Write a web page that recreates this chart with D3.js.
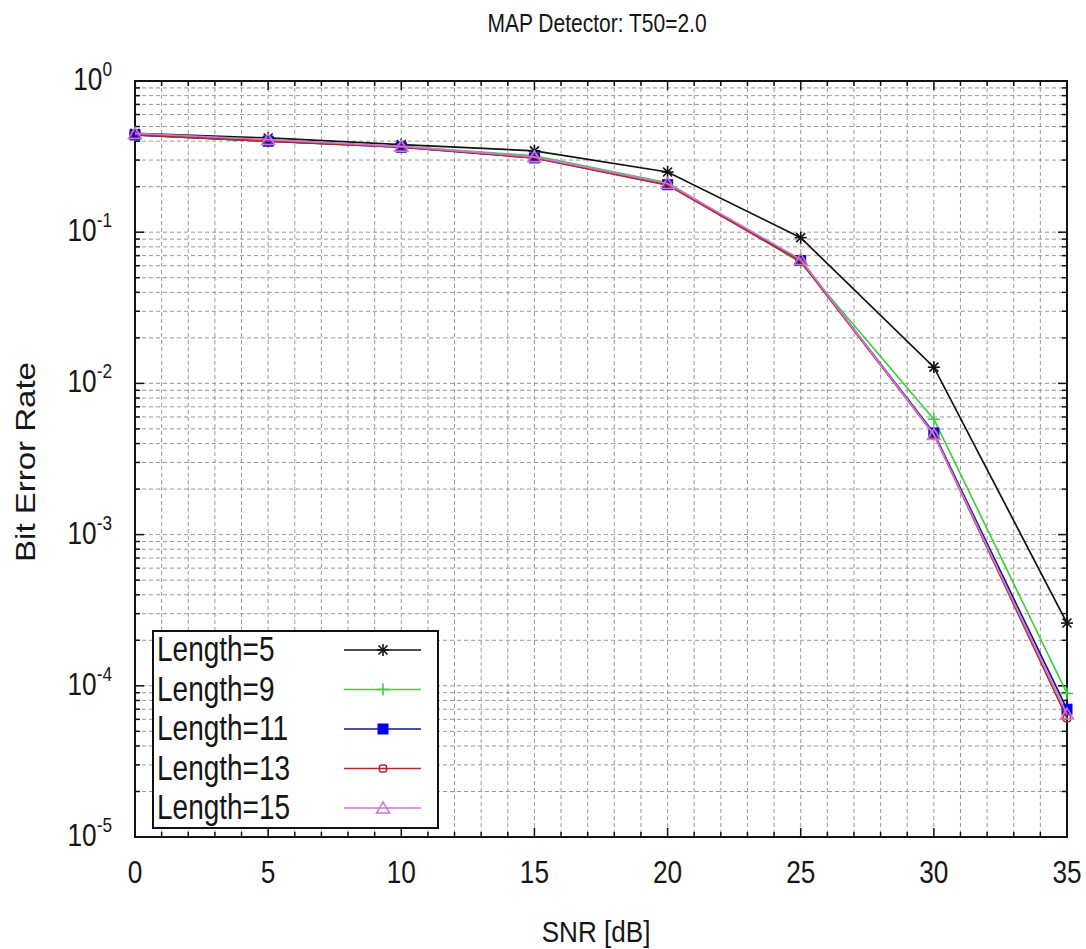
<!DOCTYPE html>
<html>
<head>
<meta charset="utf-8">
<script src="https://cdn.jsdelivr.net/npm/d3@7"></script>
<style>
  html, body { margin: 0; padding: 0; background: #fff; }
  text { font-family: "Liberation Sans", Arial, sans-serif; fill: #161616; }
</style>
</head>
<body>
<svg id="chart" width="1086" height="949"></svg>
<script>
// SNR points (dB)
const snr = [0, 5, 10, 15, 20, 25, 30, 35];

// Bit error rate per detector window length
const berLen5  = [0.45, 0.42, 0.38, 0.345, 0.25, 0.092, 0.0128, 2.6e-4];
const berLen9  = [0.44, 0.40, 0.37, 0.32, 0.212, 0.063, 0.0058, 8.9e-5];
const berLen11 = [0.44, 0.40, 0.365, 0.31, 0.206, 0.065, 0.0047, 7.0e-5];
const berLen13 = [0.44, 0.40, 0.365, 0.31, 0.205, 0.064, 0.0046, 6.1e-5];
const berLen15 = [0.45, 0.41, 0.37, 0.315, 0.21, 0.066, 0.0046, 6.5e-5];

const seriesNames = ["Length=5", "Length=9", "Length=11", "Length=13", "Length=15"];
const seriesValues = [berLen5, berLen9, berLen11, berLen13, berLen15];

const xTicks = [0, 5, 10, 15, 20, 25, 30, 35];
const yDecades = [0, -1, -2, -3, -4, -5];

const styles = [
  { line: "#111111", marker: "star",     fill: "none",    stroke: "#111111" },
  { line: "#3fcf3f", marker: "plus",     fill: "none",    stroke: "#3fcf3f" },
  { line: "#14148a", marker: "square",   fill: "#0000ee", stroke: "#0000ee" },
  { line: "#b52a2a", marker: "circle",   fill: "none",    stroke: "#b52a2a" },
  { line: "#cc77d6", marker: "triangle", fill: "none",    stroke: "#cc77d6" }
];

const svg = d3.select("#chart");
const plotL = 135, plotR = 1067, plotT = 81, plotB = 837;
const squeeze = 0.82; // condensed text width

const x = d3.scaleLinear().domain([0, 35]).range([plotL, plotR]);
const y = d3.scaleLog().domain([1e-5, 1]).range([plotB, plotT]);

// horizontal text with condensed glyphs
function label(parent, px, py, str, size, anchor, sx) {
  return parent.append("text")
    .attr("transform", `translate(${px},${py}) scale(${sx || squeeze},1)`)
    .attr("text-anchor", anchor || "start")
    .attr("font-size", size)
    .text(str);
}

// grid
const grid = svg.append("g").attr("stroke", "#999").attr("stroke-width", 1)
  .attr("stroke-dasharray", "4,3").attr("fill", "none");
for (let v = 1; v < 35; v++) {
  grid.append("line").attr("x1", x(v)).attr("x2", x(v)).attr("y1", plotT).attr("y2", plotB);
}
const minorY = [];
for (let d = -5; d < 0; d++) {
  for (let k = 1; k <= 9; k++) {
    minorY.push({ val: k * Math.pow(10, d), major: k === 1 });
  }
}
minorY.forEach(m => {
  if (m.val <= 1e-5) return;
  grid.append("line").attr("x1", plotL).attr("x2", plotR).attr("y1", y(m.val)).attr("y2", y(m.val));
});

// frame ticks (inward on all four sides)
const ticks = svg.append("g").attr("stroke", "#111").attr("stroke-width", 1.5);
for (let v = 0; v <= 35; v++) {
  const len = v % 5 === 0 ? 9 : 5;
  ticks.append("line").attr("x1", x(v)).attr("x2", x(v)).attr("y1", plotB).attr("y2", plotB - len);
  ticks.append("line").attr("x1", x(v)).attr("x2", x(v)).attr("y1", plotT).attr("y2", plotT + len);
}
minorY.concat([{ val: 1, major: true }]).forEach(m => {
  const len = m.major ? 9 : 5;
  ticks.append("line").attr("x1", plotL).attr("x2", plotL + len).attr("y1", y(m.val)).attr("y2", y(m.val));
  ticks.append("line").attr("x1", plotR).attr("x2", plotR - len).attr("y1", y(m.val)).attr("y2", y(m.val));
});

svg.append("rect").attr("x", plotL).attr("y", plotT).attr("width", plotR - plotL).attr("height", plotB - plotT)
  .attr("fill", "none").attr("stroke", "#111").attr("stroke-width", 2);

// x tick labels
const xl = svg.append("g");
xTicks.forEach(d => label(xl, x(d), 883, d, 32, "middle"));

// y tick labels (powers of ten)
const ylg = svg.append("g");
yDecades.forEach(d => {
  const t = label(ylg, 112, y(Math.pow(10, d)) + 9, "", 32, "end");
  t.append("tspan").text("10");
  t.append("tspan").attr("dy", -14).attr("font-size", 21).text(d);
});

// titles
label(svg, 597, 32, "MAP Detector: T50=2.0", 25, "middle", 0.84);
label(svg, 596, 942, "SNR [dB]", 29, "middle", 0.9);
svg.append("text").attr("transform", "translate(35,462) rotate(-90) scale(1,0.84)")
  .attr("text-anchor", "middle").attr("font-size", 33).text("Bit Error Rate");

// markers
function drawMarker(g, type, cx, cy, st) {
  const s = 6;
  if (type === "star") {
    const p = g.append("g").attr("stroke", st.stroke).attr("stroke-width", 1.6);
    p.append("line").attr("x1", cx - s).attr("x2", cx + s).attr("y1", cy).attr("y2", cy);
    p.append("line").attr("x1", cx).attr("x2", cx).attr("y1", cy - s).attr("y2", cy + s);
    p.append("line").attr("x1", cx - s * 0.75).attr("x2", cx + s * 0.75).attr("y1", cy - s * 0.75).attr("y2", cy + s * 0.75);
    p.append("line").attr("x1", cx - s * 0.75).attr("x2", cx + s * 0.75).attr("y1", cy + s * 0.75).attr("y2", cy - s * 0.75);
  } else if (type === "plus") {
    const p = g.append("g").attr("stroke", st.stroke).attr("stroke-width", 1.6);
    p.append("line").attr("x1", cx - s).attr("x2", cx + s).attr("y1", cy).attr("y2", cy);
    p.append("line").attr("x1", cx).attr("x2", cx).attr("y1", cy - s).attr("y2", cy + s);
  } else if (type === "square") {
    g.append("rect").attr("x", cx - 5).attr("y", cy - 5).attr("width", 10).attr("height", 10)
      .attr("fill", st.fill).attr("stroke", st.stroke).attr("stroke-width", 1);
  } else if (type === "circle") {
    g.append("rect").attr("x", cx - 3.5).attr("y", cy - 3.5).attr("width", 7).attr("height", 7).attr("rx", 2)
      .attr("fill", "none").attr("stroke", st.stroke).attr("stroke-width", 1.6);
  } else if (type === "triangle") {
    g.append("path").attr("d", `M${cx},${cy - 6}L${cx + 6.5},${cy + 5}L${cx - 6.5},${cy + 5}Z`)
      .attr("fill", "none").attr("stroke", st.stroke).attr("stroke-width", 1.5);
  }
}

// curves
const line = d3.line().x(d => x(d[0])).y(d => y(d[1]));
seriesValues.forEach((vals, i) => {
  const pts = snr.map((s, j) => [s, vals[j]]);
  const g = svg.append("g");
  g.append("path").attr("d", line(pts)).attr("fill", "none")
    .attr("stroke", styles[i].line).attr("stroke-width", 1.7);
  pts.forEach(p => drawMarker(g, styles[i].marker, x(p[0]), y(p[1]), styles[i]));
});

// legend
const lg = svg.append("g");
lg.append("rect").attr("x", 153).attr("y", 631).attr("width", 285).attr("height", 197)
  .attr("fill", "#fff").attr("stroke", "#111").attr("stroke-width", 2);
seriesNames.forEach((name, i) => {
  const cy = 650 + i * 39.5;
  label(lg, 157, cy + 11, name, 35, "start", 0.8);
  lg.append("line").attr("x1", 344).attr("x2", 421).attr("y1", cy).attr("y2", cy)
    .attr("stroke", styles[i].line).attr("stroke-width", 1.6);
  drawMarker(lg, styles[i].marker, 383, cy, styles[i]);
});
</script>
</body>
</html>
